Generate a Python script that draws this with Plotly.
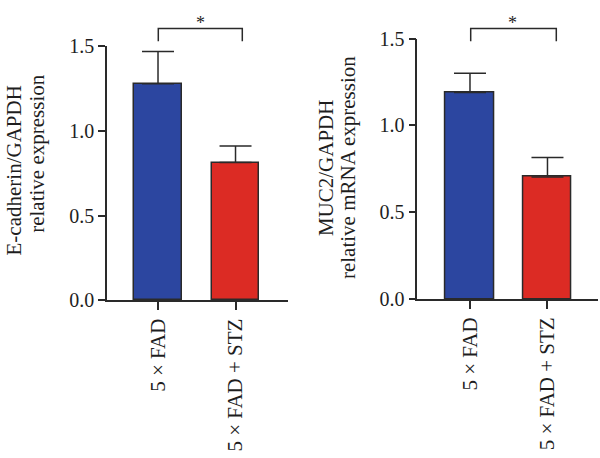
import plotly.graph_objects as go

categories = ["5 × FAD", "5 × FAD + STZ"]
ecad_values = [1.277, 0.813]
ecad_err = [0.19, 0.097]
muc2_values = [1.19, 0.704]
muc2_err = [0.11, 0.111]
bar_colors = ["#2C46A0", "#DC2B24"]
ytick_vals = [0, 0.5, 1.0, 1.5]
ytick_text = ["0.0", "0.5", "1.0", "1.5"]

FONT = "Liberation Serif"
LINE = "#2a2a2a"
TXT = "#1e1e1e"
W, H = 600, 458

fig = go.Figure()

xpos = [0, 1]

fig.add_trace(go.Bar(
    x=xpos, y=ecad_values, width=0.61,
    marker=dict(color=bar_colors, line=dict(color=LINE, width=1.5)),
    error_y=dict(type="data", symmetric=False, array=ecad_err, arrayminus=[0, 0],
                 color=LINE, thickness=1.5, width=16),
    xaxis="x", yaxis="y", showlegend=False))

fig.add_trace(go.Bar(
    x=xpos, y=muc2_values, width=0.626,
    marker=dict(color=bar_colors, line=dict(color=LINE, width=1.5)),
    error_y=dict(type="data", symmetric=False, array=muc2_err, arrayminus=[0, 0],
                 color=LINE, thickness=1.5, width=16),
    xaxis="x2", yaxis="y2", showlegend=False))


def px_(x):
    return x / W


def py(y):
    return (H - y) / H


def xaxis_cfg(domain, rng):
    return dict(domain=domain, range=rng, tickvals=xpos, ticktext=categories,
                tickangle=-90, showline=True, linecolor=LINE, linewidth=1.5,
                ticks="outside", ticklen=8, tickwidth=1.5, tickcolor=LINE,
                showgrid=False, zeroline=False, fixedrange=True,
                tickfont=dict(family=FONT, size=21, color=TXT))


def yaxis_cfg(domain, anchor):
    return dict(domain=domain, range=[0, 1.5], anchor=anchor, tickvals=ytick_vals, ticktext=ytick_text,
                showline=True, linecolor=LINE, linewidth=1.5,
                ticks="outside", ticklen=7, tickwidth=1.5, tickcolor=LINE,
                showgrid=False, zeroline=False, fixedrange=True,
                tickfont=dict(family=FONT, size=20, color=TXT))


fig.update_layout(
    width=W, height=H,
    margin=dict(l=0, r=0, t=0, b=0),
    paper_bgcolor="white", plot_bgcolor="white",
    xaxis=dict(**xaxis_cfg([107 / W, 288 / W], [-0.658, 1.677]), anchor="y"),
    yaxis=yaxis_cfg([py(304), py(36.7)], "x"),
    xaxis2=dict(**xaxis_cfg([417.3 / W, 598 / W], [-0.68, 1.652]), anchor="y2"),
    yaxis2=yaxis_cfg([py(302.7), py(29)], "x2"),
    bargap=0,
)

# significance brackets (paper coordinates)
for (x0, x1, ytop, ybot) in [(158.3, 242.3, 18.3, 31.7), (470.7, 556.3, 18.3, 31.7)]:
    fig.add_shape(type="path", xref="paper", yref="paper",
                  path=f"M {px_(x0)} {py(ybot)} L {px_(x0)} {py(ytop)} L {px_(x1)} {py(ytop)} L {px_(x1)} {py(ybot)}",
                  line=dict(color=LINE, width=1.5))

ann_font = dict(family=FONT, size=21, color=TXT)
annotations = [
    dict(text="E-cadherin/GAPDH", x=14, y=167.5),
    dict(text="relative expression", x=37, y=150),
    dict(text="MUC2/GAPDH", x=326, y=165),
    dict(text="relative mRNA expression", x=348, y=165),
]
for a in annotations:
    fig.add_annotation(text=a["text"], x=px_(a["x"]), y=py(a["y"]), xref="paper", yref="paper",
                       textangle=-90, showarrow=False, xanchor="center", yanchor="middle",
                       font=ann_font)

for sx, sy in [(200, 13), (512.7, 13)]:
    fig.add_annotation(text="*", x=px_(sx), y=py(sy), xref="paper", yref="paper", showarrow=False,
                       font=dict(family=FONT, size=18, color=TXT), xanchor="center", yanchor="middle")

fig.write_html("out.html")
